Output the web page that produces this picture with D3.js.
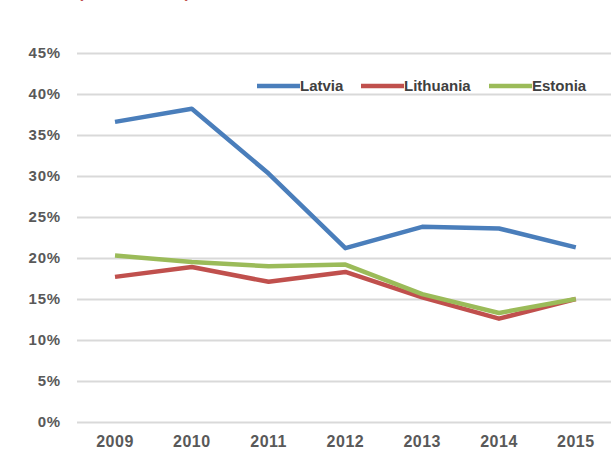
<!DOCTYPE html>
<html>
<head>
<meta charset="utf-8">
<script src="https://cdn.jsdelivr.net/npm/d3@7"></script>
<style>
  body { margin: 0; background: #fff; }
  svg { display: block; font-family: "Liberation Sans", Arial, sans-serif; font-weight: bold; }
</style>
</head>
<body>
<svg id="chart"></svg>
<script>
let years = ["2009", "2010", "2011", "2012", "2013", "2014", "2015"];
let latvia = [36.6, 38.2, 30.3, 21.2, 23.8, 23.6, 21.3];
let lithuania = [17.7, 18.9, 17.1, 18.3, 15.2, 12.6, 15.0];
let estonia = [20.3, 19.5, 19.0, 19.2, 15.6, 13.3, 15.0];
let yTicks = [0, 5, 10, 15, 20, 25, 30, 35, 40, 45];
let seriesNames = ["Latvia", "Lithuania", "Estonia"];
let seriesColors = ["#4a7ebb", "#c0504d", "#9bbb59"];

let width = 611;
let height = 456;

let svg = d3.select("#chart")
  .attr("width", width)
  .attr("height", height);

let xScale = d3.scaleBand()
  .domain(years)
  .range([76.6, 614.2]);

let yScale = d3.scaleLinear()
  .domain([0, 45])
  .range([422, 53]);

// red title, cut off at the top edge as in the source image
svg.append("text")
  .attr("x", 78)
  .attr("y", -2)
  .attr("fill", "#c0504d")
  .style("font-size", "16px")
  .attr("textLength", 112)
  .text("(2009-2015)");

// gridlines + y labels
let yAxis = d3.axisLeft(yScale)
  .tickValues(yTicks)
  .tickSize(-(width - 77))
  .tickPadding(16)
  .tickFormat(d => d + "%");

let gy = svg.append("g")
  .attr("transform", "translate(77,0)")
  .call(yAxis);
gy.select(".domain").remove();
gy.selectAll(".tick line").attr("stroke", "#d9d9d9").attr("stroke-width", 2);
gy.selectAll(".tick text")
  .attr("fill", "#595959")
  .style("font-size", "15px")
  .style("letter-spacing", "0.8px")
  .style("font-family", "Liberation Sans, Arial, sans-serif");

// x labels
let xAxis = d3.axisBottom(xScale).tickSize(0).tickPadding(14);
let gx = svg.append("g")
  .attr("transform", "translate(0,422)")
  .call(xAxis);
gx.select(".domain").remove();
gx.selectAll(".tick text")
  .attr("fill", "#595959")
  .style("font-size", "16px")
  .style("letter-spacing", "0.5px")
  .style("font-family", "Liberation Sans, Arial, sans-serif");

// lines
let line = d3.line()
  .x((d, i) => xScale(years[i]) + xScale.bandwidth() / 2)
  .y(d => yScale(d));

let allSeries = [latvia, lithuania, estonia];
allSeries.forEach((s, i) => {
  svg.append("path")
    .datum(s)
    .attr("d", line)
    .attr("fill", "none")
    .attr("stroke", seriesColors[i])
    .attr("stroke-width", 4.5)
    .attr("stroke-linejoin", "round");
});

// legend
let legendX = [257, 361, 489];
let legend = svg.append("g");
seriesNames.forEach((name, i) => {
  legend.append("line")
    .attr("x1", legendX[i])
    .attr("x2", legendX[i] + 43)
    .attr("y1", 86)
    .attr("y2", 86)
    .attr("stroke", seriesColors[i])
    .attr("stroke-width", 4.5);
  legend.append("text")
    .attr("x", legendX[i] + 43)
    .attr("y", 86)
    .attr("dy", "0.36em")
    .attr("fill", "#404040")
    .style("font-size", "15px")
    .text(name);
});
</script>
</body>
</html>
